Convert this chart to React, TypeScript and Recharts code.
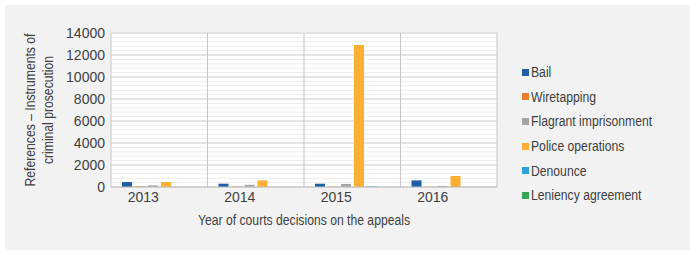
import { BarChart, Bar, XAxis, YAxis, CartesianGrid } from 'recharts';

const years = ['2013', '2014', '2015', '2016'];
const bail = [450, 300, 300, 600];
const wiretapping = [60, 40, 20, 20];
const flagrant = [150, 200, 280, 100];
const police = [450, 600, 12900, 1000];
const denounce = [0, 0, 50, 0];
const leniency = [0, 0, 0, 0];
const yTicks = [0, 2000, 4000, 6000, 8000, 10000, 12000, 14000];

const SERIES = [
  { key: 'bail', name: 'Bail', color: '#1f5fa6', values: bail },
  { key: 'wiretapping', name: 'Wiretapping', color: '#ed7d31', values: wiretapping },
  { key: 'flagrant', name: 'Flagrant imprisonment', color: '#a5a5a5', values: flagrant },
  { key: 'police', name: 'Police operations', color: '#fbb034', values: police },
  { key: 'denounce', name: 'Denounce', color: '#2d9fd9', values: denounce },
  { key: 'leniency', name: 'Leniency agreement', color: '#3aa655', values: leniency },
];

const data = years.map((year, i) => {
  const row: Record<string, string | number> = { year };
  SERIES.forEach((s) => {
    row[s.key] = s.values[i];
  });
  return row;
});

const Y_MAX = 14000;
const minorTicks = Array.from({ length: Y_MAX / 400 + 1 }, (_, i) => i * 400);

const FONT = "'Liberation Sans', Arial, sans-serif";
const TEXT = '#404040';
const SQUEEZE = 0.87; // the original uses a condensed face

const minorLines = ({ yAxis, offset }: any) =>
  minorTicks.map((v) =>
    yAxis && typeof yAxis.scale === 'function'
      ? yAxis.scale(v)
      : offset.top + offset.height * (1 - v / Y_MAX)
  );

const categoryLines = ({ offset }: any) =>
  [0, ...years.map((_, i) => i + 1)].map((i) => offset.left + (i * offset.width) / years.length);

// condensed text, optionally rotated
const NarrowText = ({ x, y, rotate = 0, children, anchor = 'middle', baseline }: any) => (
  <text
    transform={`translate(${x}, ${y}) rotate(${rotate}) scale(${SQUEEZE}, 1)`}
    textAnchor={anchor}
    dominantBaseline={baseline}
    fill={TEXT}
    fontSize={14}
    fontFamily={FONT}
  >
    {children}
  </text>
);

const YTitle = ({ viewBox }: any) => {
  const cy = viewBox.y + viewBox.height / 2;
  return (
    <g>
      <NarrowText x={30} y={cy} rotate={-90} baseline="central">
        References – Instruments of
      </NarrowText>
      <NarrowText x={48} y={cy} rotate={-90} baseline="central">
        criminal prosecution
      </NarrowText>
    </g>
  );
};

const XTitle = ({ viewBox }: any) => (
  <NarrowText x={viewBox.x + viewBox.width / 2} y={viewBox.y + 38}>
    Year of courts decisions on the appeals
  </NarrowText>
);

const LegendBox = () => (
  <div style={{ fontFamily: FONT, fontSize: 14, color: TEXT }}>
    {SERIES.map((s) => (
      <div key={s.key} style={{ display: 'flex', alignItems: 'center', height: 24.6 }}>
        <span style={{ width: 7, height: 7, background: s.color, marginRight: 2, flex: 'none' }} />
        <span style={{ display: 'inline-block', whiteSpace: 'nowrap', transform: `scaleX(${SQUEEZE})`, transformOrigin: 'left center' }}>
          {s.name}
        </span>
      </div>
    ))}
  </div>
);

export default function App() {
  return (
    <div style={{ position: 'absolute', left: 0, top: 0, width: 698, height: 255, background: '#ffffff' }}>
      <div style={{ position: 'absolute', left: 5, top: 5, width: 685, height: 245, background: '#f2f2f3' }} />
      <div style={{ position: 'absolute', left: 0, top: 0 }}>
        <BarChart
          width={698}
          height={255}
          data={data}
          margin={{ top: 33, right: 201, bottom: 18, left: 51 }}
          barSize={10}
          barGap={3}
        >
          <CartesianGrid
            vertical={false}
            fill="#ffffff"
            stroke="#ececec"
            horizontalCoordinatesGenerator={minorLines}
          />
          <CartesianGrid vertical={false} stroke="#d4d4d4" />
          <CartesianGrid horizontal={false} stroke="#c6c6c6" verticalCoordinatesGenerator={categoryLines} />
          <XAxis
            dataKey="year"
            height={50}
            tickSize={0}
            tickMargin={5}
            axisLine={{ stroke: '#c0c0c0' }}
            tick={{ fill: TEXT, fontSize: 14, fontFamily: FONT, dx: -16 }}
            label={<XTitle />}
          />
          <YAxis
            width={60}
            domain={[0, Y_MAX]}
            ticks={yTicks}
            interval={0}
            tickSize={0}
            tickMargin={6}
            axisLine={false}
            tick={{ fill: TEXT, fontSize: 14, fontFamily: FONT }}
            label={<YTitle />}
          />
          {SERIES.map((s) => (
            <Bar key={s.key} dataKey={s.key} name={s.name} fill={s.color} isAnimationActive={false} />
          ))}
        </BarChart>
      </div>
      <div style={{ position: 'absolute', left: 522, top: 60, width: 170 }}>
        <LegendBox />
      </div>
    </div>
  );
}
